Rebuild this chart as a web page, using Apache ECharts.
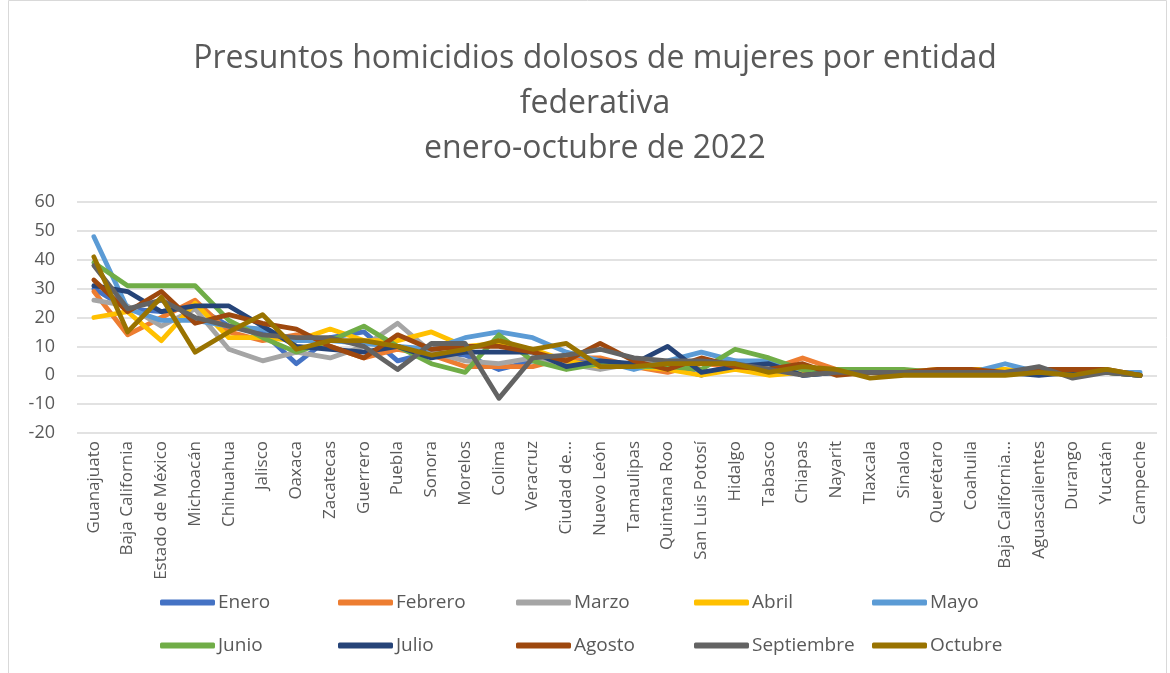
<!DOCTYPE html>
<html>
<head>
<meta charset="utf-8">
<script src="https://cdn.jsdelivr.net/npm/echarts@6/dist/echarts.min.js"></script>
<style>
html,body{margin:0;padding:0;background:#fff;}
#chart{width:1170px;height:673px;}
</style>
</head>
<body>
<div id="chart"></div>
<script>
const categories = ['Guanajuato','Baja California','Estado de México','Michoacán','Chihuahua','Jalisco','Oaxaca','Zacatecas','Guerrero','Puebla','Sonora','Morelos','Colima','Veracruz','Ciudad de México','Nuevo León','Tamaulipas','Quintana Roo','San Luis Potosí','Hidalgo','Tabasco','Chiapas','Nayarit','Tlaxcala','Sinaloa','Querétaro','Coahuila','Baja California Sur','Aguascalientes','Durango','Yucatán','Campeche'];
const tickLabels = ['Guanajuato','Baja California','Estado de México','Michoacán','Chihuahua','Jalisco','Oaxaca','Zacatecas','Guerrero','Puebla','Sonora','Morelos','Colima','Veracruz','Ciudad de...','Nuevo León','Tamaulipas','Quintana Roo','San Luis Potosí','Hidalgo','Tabasco','Chiapas','Nayarit','Tlaxcala','Sinaloa','Querétaro','Coahuila','Baja California...','Aguascalientes','Durango','Yucatán','Campeche'];
const seriesNames = ['Enero','Febrero','Marzo','Abril','Mayo','Junio','Julio','Agosto','Septiembre','Octubre'];
const enero      = [30,23,22,24,17,15,4,13,15,5,8,7,2,5,5,5,3,3,0,4,4,0,1,1,1,1,1,1,1,1,1,0];
const febrero    = [29,14,20,26,15,12,14,10,6,9,7,3,3,3,6,6,3,1,4,3,2,6,2,1,1,1,1,1,1,1,1,0];
const marzo      = [26,24,17,23,9,5,8,6,10,18,8,5,4,6,4,2,4,4,4,5,3,1,1,1,1,1,1,1,1,1,1,0];
const abril      = [20,22,12,25,13,13,12,16,12,12,15,10,11,9,5,3,3,2,0,2,0,1,1,1,1,2,2,2,1,1,1,0];
const mayo       = [48,23,19,19,17,16,12,12,11,10,9,13,15,13,8,5,2,5,8,5,5,2,1,1,1,1,1,4,1,1,1,1];
const junio      = [39,31,31,31,19,13,8,12,17,10,4,1,14,5,2,4,3,3,2,9,6,2,2,2,2,1,1,1,1,1,1,0];
const julio      = [31,29,22,24,24,17,10,9,8,10,6,8,8,8,3,5,4,10,1,3,4,0,1,1,1,1,1,1,0,1,1,0];
const agosto     = [33,22,29,18,21,18,16,10,6,14,9,10,10,8,5,11,5,2,6,3,2,4,0,1,1,2,2,1,2,2,2,0];
const septiembre = [38,23,26,20,17,14,13,13,10,2,11,11,-8,6,7,9,6,5,5,4,2,0,1,1,1,1,1,1,3,-1,1,0];
const octubre    = [41,15,27,8,15,21,9,12,12,10,7,9,12,9,11,3,3,4,4,4,1,3,2,-1,0,0,0,0,1,0,2,0];
const yTicks = {min:-20, max:60, interval:10};
const titleText = 'Presuntos homicidios dolosos de mujeres por entidad\nfederativa\nenero-octubre de 2022';

const allData = [enero,febrero,marzo,abril,mayo,junio,julio,agosto,septiembre,octubre];
const colors = ['#4472C4','#ED7D31','#A5A5A5','#FFC000','#5B9BD5','#70AD47','#264478','#9E480E','#636363','#997300'];
const FONT = '"Open Sans", "Noto Sans", sans-serif';

const legendCols = [155, 333, 511, 689, 867];
const legendRows = [588, 631];
const legends = seriesNames.map((n,i)=>({
  data:[n],
  left: legendCols[i%5],
  top: legendRows[Math.floor(i/5)],
  itemWidth: 55, itemHeight: 6,
  itemGap: 0,
  icon: 'roundRect',
  textStyle:{color:'#595959', fontSize:19, fontFamily:FONT, padding:[0,0,0,-2]},
  selectedMode:false
}));

const chart = echarts.init(document.getElementById('chart'), null, {renderer:'canvas'});
chart.setOption({
  animation:false,
  color: colors,
  graphic:[
    {type:'rect', shape:{x:8.5,y:0.5,width:1158,height:700}, style:{fill:'none', stroke:'#d9d9d9', lineWidth:1}, silent:true},
    {type:'text', x:595, y:36, silent:true,
     style:{text:titleText, fill:'#595959', fontSize:32, fontFamily:FONT, lineHeight:45,
            align:'center', verticalAlign:'top', textAlign:'center', textVerticalAlign:'top'}}
  ],
  legend: legends,
  grid:{left:77, right:13, top:202, bottom:240},
  xAxis:{
    type:'category',
    data: categories,
    boundaryGap:true,
    axisLine:{show:false},
    axisTick:{show:false},
    axisLabel:{
      rotate:90, interval:0, color:'#595959', fontSize:17, fontFamily:FONT, margin:8,
      formatter:(v,idx)=>tickLabels[idx]
    },
    splitLine:{show:false}
  },
  yAxis:{
    type:'value',
    min:yTicks.min, max:yTicks.max, interval:yTicks.interval,
    axisLine:{show:false}, axisTick:{show:false},
    axisLabel:{color:'#595959', fontSize:18, fontFamily:FONT, margin:22},
    splitLine:{lineStyle:{color:'#d9d9d9', width:1.5}}
  },
  series: seriesNames.map((n,i)=>({
    name:n, type:'line', data: allData[i],
    showSymbol:false, symbol:'none',
    lineStyle:{width:4.8, color:colors[i], cap:'round', join:'round'},
    itemStyle:{color:colors[i]}
  }))
});
</script>
</body>
</html>
